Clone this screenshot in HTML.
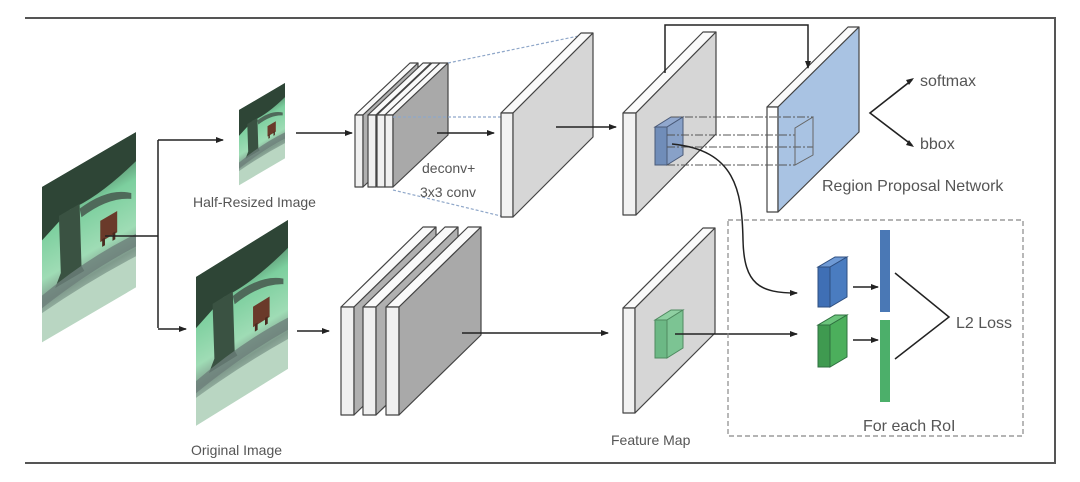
<!DOCTYPE html>
<html><head><meta charset="utf-8"><style>
html,body{margin:0;padding:0;background:#fff;}
svg{display:block;}
text{font-family:"Liberation Sans","DejaVu Sans",sans-serif;fill:#555;}
</style></head><body>
<svg width="1080" height="482" viewBox="0 0 1080 482" xmlns="http://www.w3.org/2000/svg">
<defs>
<marker id="ah" markerWidth="8" markerHeight="8" refX="7" refY="4" orient="auto" markerUnits="userSpaceOnUse">
<path d="M0,1 L8,4 L0,7 z" fill="#222"/></marker>
<linearGradient id="bg" x1="0" y1="0" x2="0" y2="1">
<stop offset="0" stop-color="#3c5a48"/><stop offset="0.3" stop-color="#7ccf9e"/><stop offset="0.6" stop-color="#9fdcb5"/><stop offset="0.75" stop-color="#7f9a8c"/><stop offset="1" stop-color="#c9e4d2"/></linearGradient>
<g id="pic">
<rect x="0" y="0" width="100" height="160" fill="url(#bg)"/>
<path d="M0,0 L100,0 L100,30 Q60,45 30,40 Q10,50 0,55 z" fill="#2e4536"/>
<path d="M18,40 L40,40 L42,105 L45,112 L14,112 L20,100 z" fill="#3a5242"/>
<path d="M40,45 Q70,40 95,60 L95,66 Q70,50 42,55 z" fill="#4f6a5a"/>
<rect x="62" y="70" width="18" height="22" fill="#6a3a2a"/>
<rect x="64" y="90" width="3" height="8" fill="#4a2a20"/><rect x="75" y="90" width="3" height="8" fill="#4a2a20"/>
<path d="M0,112 Q50,100 100,105 L100,118 Q50,115 0,125 z" fill="#6d7f7a" opacity="0.8"/>
<path d="M0,130 Q50,125 100,128 L100,160 L0,160 z" fill="#b9d6c2"/>
</g>
</defs>

<!-- frame -->
<line x1="25" y1="18" x2="1056" y2="18" stroke="#555" stroke-width="2"/>
<line x1="25" y1="463" x2="1056" y2="463" stroke="#555" stroke-width="2"/>
<line x1="1055" y1="18" x2="1055" y2="463" stroke="#555" stroke-width="2"/>

<!-- images -->
<g transform="translate(42,187) skewY(-30.3) scale(0.94,0.97)"><use href="#pic"/></g>
<g transform="translate(196,277) skewY(-31.8) scale(0.92,0.93)"><use href="#pic"/></g>
<g transform="translate(239,110) skewY(-30.4) scale(0.46,0.47)"><use href="#pic"/></g>

<!-- image connectors -->
<g stroke="#222" stroke-width="1.5" fill="none">
<polyline points="105,236 158,236"/>
<polyline points="158,140 158,328"/>
<line x1="158" y1="140" x2="223" y2="140" marker-end="url(#ah)"/>
<line x1="158" y1="329" x2="186" y2="329" marker-end="url(#ah)"/>
<line x1="296" y1="133" x2="352" y2="133" marker-end="url(#ah)"/>
<line x1="297" y1="331" x2="329" y2="331" marker-end="url(#ah)"/>
</g>

<!-- slabs common stroke -->
<g stroke="#444" stroke-width="1.2" stroke-linejoin="round">
<!-- top stack -->
<polygon points="355,115 363,115 418,63 410,63" fill="#fafafa"/><rect x="355" y="115" width="8" height="72" fill="#f0f0f0"/><polygon points="363,115 418,63 418,135 363,187" fill="#b0b0b0"/>
<polygon points="368,115 376,115 431,63 423,63" fill="#fafafa"/><rect x="368" y="115" width="8" height="72" fill="#f0f0f0"/><polygon points="376,115 431,63 431,135 376,187" fill="#b0b0b0"/>
<polygon points="377,115 385,115 440,63 432,63" fill="#fafafa"/><rect x="377" y="115" width="8" height="72" fill="#f0f0f0"/><polygon points="385,115 440,63 440,135 385,187" fill="#b0b0b0"/>
<polygon points="385,115 393,115 448,63 440,63" fill="#fafafa"/><rect x="385" y="115" width="8" height="72" fill="#f0f0f0"/><polygon points="393,115 448,63 448,135 393,187" fill="#a9a9a9"/>
</g>

<!-- dotted blue projection lines -->
<g stroke="#8fa7c9" stroke-width="1.2" stroke-dasharray="3,2" fill="none">
<line x1="448" y1="63" x2="593" y2="33"/>
<line x1="393" y1="117" x2="501" y2="117"/>
<line x1="393" y1="190" x2="501" y2="216"/>
</g>

<g stroke="#444" stroke-width="1.2" stroke-linejoin="round">
<!-- big deconv slab -->
<polygon points="501,113 513,113 593,33 581,33" fill="#fafafa"/><rect x="501" y="113" width="12" height="104" fill="#f2f2f2"/><polygon points="513,113 593,33 593,137 513,217" fill="#d6d6d6"/>
<!-- bottom stack -->
<polygon points="341,307 354,307 436,227 423,227" fill="#fafafa"/><rect x="341" y="307" width="13" height="108" fill="#f0f0f0"/><polygon points="354,307 436,227 436,335 354,415" fill="#b0b0b0"/>
<polygon points="363,307 376,307 458,227 445,227" fill="#fafafa"/><rect x="363" y="307" width="13" height="108" fill="#f0f0f0"/><polygon points="376,307 458,227 458,335 376,415" fill="#b0b0b0"/>
<polygon points="386,307 399,307 481,227 468,227" fill="#fafafa"/><rect x="386" y="307" width="13" height="108" fill="#f0f0f0"/><polygon points="399,307 481,227 481,335 399,415" fill="#a9a9a9"/>
<!-- feature top -->
<polygon points="623,113 636,113 716,32 703,32" fill="#fafafa"/><rect x="623" y="113" width="13" height="102" fill="#f2f2f2"/><polygon points="636,113 716,32 716,134 636,215" fill="#d6d6d6"/>
<!-- feature bottom -->
<polygon points="623,308 635,308 715,228 703,228" fill="#fafafa"/><rect x="623" y="308" width="12" height="105" fill="#f2f2f2"/><polygon points="635,308 715,228 715,333 635,413" fill="#d6d6d6"/>
<!-- RPN -->
<polygon points="767,107 778,107 859,27 848,27" fill="#fafafa"/><rect x="767" y="107" width="11" height="105" fill="#fff"/><polygon points="778,107 859,27 859,132 778,212" fill="#a9c3e3"/>
</g>

<!-- arrows between slabs -->
<g stroke="#222" stroke-width="1.5" fill="none">
<line x1="437" y1="133" x2="494" y2="133" marker-end="url(#ah)"/>
<line x1="556" y1="127" x2="616" y2="127" marker-end="url(#ah)"/>
<line x1="462" y1="333" x2="608" y2="333" marker-end="url(#ah)"/>
<polyline points="665,73 665,25 808,25 808,68" marker-end="url(#ah)"/>
</g>

<!-- blue cube and projection to RPN -->
<g stroke="#4a5a78" stroke-width="1">
<polygon points="655,127 667,127 683,117 671,117" fill="#7f9ccc" fill-opacity="0.8"/>
<rect x="655" y="127" width="12" height="38" fill="#5e80b4" fill-opacity="0.85"/>
<polygon points="667,127 683,117 683,155 667,165" fill="#7a98c6" fill-opacity="0.85"/>
</g>
<g stroke="#555" stroke-width="1" stroke-dasharray="8,2,2,2" fill="none">
<line x1="671" y1="117" x2="813" y2="117"/>
<line x1="667" y1="135" x2="795" y2="135"/>
<line x1="667" y1="147" x2="813" y2="147"/>
<line x1="667" y1="165" x2="795" y2="165"/>
</g>
<g stroke="#666" stroke-width="1" fill="none">
<polygon points="795,128 813,117 813,155 795,165"/>
<line x1="795" y1="128" x2="795" y2="165"/>
</g>

<!-- green cube -->
<g stroke="#4f8a60" stroke-width="1">
<polygon points="655,320 667,320 683,310 671,310" fill="#8fd0a2"/>
<rect x="655" y="320" width="12" height="38" fill="#6cb885"/>
<polygon points="667,320 683,310 683,348 667,358" fill="#7cc493"/>
</g>

<!-- curve & arrow -->
<g stroke="#222" stroke-width="1.5" fill="none">
<path d="M672,144 C735,150 742,190 743,240 C744,285 760,293 797,293" marker-end="url(#ah)"/>
<line x1="675" y1="334" x2="797" y2="334" marker-end="url(#ah)"/>
</g>

<!-- dashed RoI box -->
<rect x="728" y="220" width="295" height="216" fill="none" stroke="#888" stroke-width="1.2" stroke-dasharray="5,3"/>

<!-- small cubes -->
<g stroke="#2f4f80" stroke-width="1">
<polygon points="818,267 830,267 847,257 835,257" fill="#6f9ad5"/>
<rect x="818" y="267" width="12" height="40" fill="#3f6fb5"/>
<polygon points="830,267 847,257 847,297 830,307" fill="#4a7cc0"/>
</g>
<g stroke="#2f7040" stroke-width="1">
<polygon points="818,325 830,325 847,315 835,315" fill="#6cc47c"/>
<rect x="818" y="325" width="12" height="42" fill="#3f9a50"/>
<polygon points="830,325 847,315 847,357 830,367" fill="#4caf5c"/>
</g>
<rect x="880" y="230" width="10" height="82" fill="#4a78b5"/>
<rect x="880" y="320" width="10" height="82" fill="#4caf6a"/>
<g stroke="#222" stroke-width="1.5" fill="none">
<line x1="853" y1="287" x2="878" y2="287" marker-end="url(#ah)"/>
<line x1="853" y1="340" x2="878" y2="340" marker-end="url(#ah)"/>
<polyline points="895,273 949,317 895,359"/>
<polyline points="912,80 870,113 912,145" stroke-width="1.6"/>
</g>
<path d="M906,80 L914,78 L909,85 z" fill="#222"/>
<path d="M906,145 L914,147 L909,140 z" fill="#222"/>

<!-- labels -->
<text x="920" y="86" font-size="16">softmax</text>
<text x="920" y="149" font-size="16">bbox</text>
<text x="822" y="191" font-size="16">Region Proposal Network</text>
<text x="956" y="328" font-size="16">L2 Loss</text>
<text x="863" y="431" font-size="16">For each RoI</text>
<text x="611" y="445" font-size="14">Feature Map</text>
<text x="191" y="455" font-size="14">Original Image</text>
<text x="193" y="207" font-size="14">Half-Resized Image</text>
<text x="422" y="173" font-size="14">deconv+</text>
<text x="420" y="197" font-size="14">3x3 conv</text>
</svg>
</body></html>
